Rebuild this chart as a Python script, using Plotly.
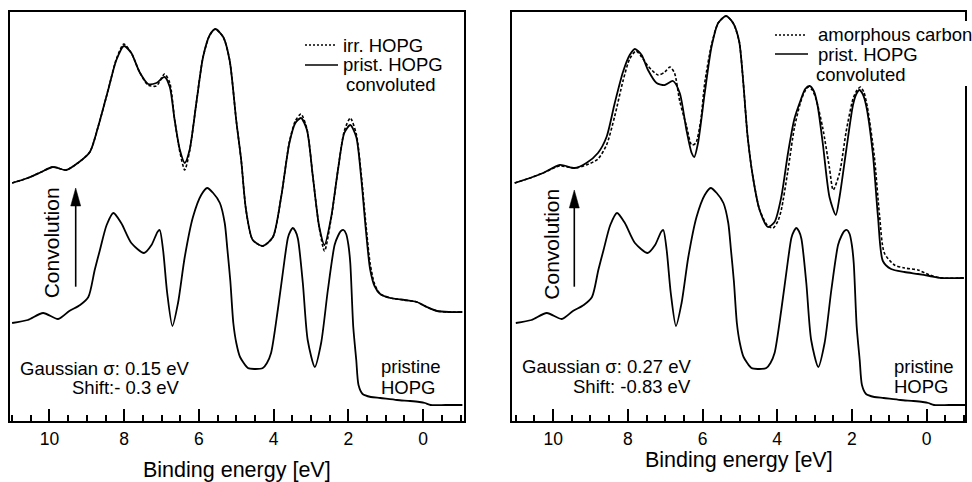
import plotly.graph_objects as go

W, H = 972, 482
FONT = "Liberation Sans, Arial, sans-serif"

# ---- pristine HOPG valence band (binding energy in eV, intensity in arb. units)
pristine_energy = [11.0, 10.58, 10.17, 9.77, 9.47, 9.18, 8.96, 8.79, 8.65, 8.47, 8.29, 8.08,
                   7.81, 7.47, 7.27, 7.11, 7.05, 6.96, 6.85, 6.71, 6.56, 6.38, 6.16, 5.94,
                   5.78, 5.62, 5.44, 5.31, 5.24, 5.16, 5.08, 5.0, 4.9, 4.69, 4.52, 4.29,
                   4.18, 4.07, 3.89, 3.71, 3.62, 3.55, 3.49, 3.42, 3.35, 3.22, 3.09, 2.90,
                   2.73, 2.55, 2.37, 2.28, 2.20, 2.13, 2.06, 2.00, 1.95, 1.87, 1.79, 1.73,
                   1.62, 1.40, 1.15, 0.70, 0.35, 0.10, -0.05, -0.20, -0.60, -1.05]
pristine_intensity = [98, 101, 108, 102, 110, 116, 124, 151, 171, 196, 208, 198,
                      178, 168, 176, 189, 191, 171, 128, 95, 118, 164, 204, 226,
                      233, 228, 218, 198, 172, 140, 98, 78, 64, 53, 52, 53,
                      58, 68, 111, 161, 183, 190, 193, 190, 182, 138, 81, 54,
                      78, 131, 176, 185, 190, 191, 187, 176, 158, 94, 61, 36,
                      27, 24, 23, 21, 20, 19, 18, 16, 16, 16]

# ---- left panel: pristine convoluted (sigma 0.15 eV, shift -0.3 eV) and irradiated HOPG
conv015_energy = [11.0, 10.58, 10.22, 9.91, 9.55, 9.24, 8.92, 8.70, 8.43, 8.21, 8.01, 7.81,
                  7.59, 7.36, 7.14, 6.92, 6.78, 6.65, 6.51, 6.38, 6.25, 6.07, 5.89, 5.71,
                  5.56, 5.35, 5.18, 5.0, 4.87, 4.74, 4.56, 4.29, 4.02, 3.80, 3.58, 3.42,
                  3.27, 3.11, 2.95, 2.78, 2.64, 2.46, 2.28, 2.11, 1.95, 1.79, 1.66, 1.53,
                  1.42, 1.30, 1.15, 0.88, 0.50, 0.17, -0.10, -0.37, -0.70, -1.05]
conv015_intensity = [238, 243, 249, 254, 251, 258, 269, 294, 331, 361, 375, 368,
                     349, 337, 338, 344, 334, 301, 271, 258, 271, 318, 364, 386,
                     392, 384, 361, 300, 261, 211, 181, 175, 184, 224, 278, 298,
                     303, 291, 244, 194, 176, 204, 251, 288, 296, 284, 244, 190,
                     152, 135, 127, 123, 121, 119, 114, 110, 109, 109]

irr_energy = [11.0, 10.58, 10.22, 9.91, 9.55, 9.24, 8.92, 8.70, 8.43, 8.21, 8.01, 7.81,
              7.59, 7.36, 7.14, 6.92, 6.78, 6.65, 6.51, 6.38, 6.25, 6.07, 5.89, 5.71,
              5.56, 5.35, 5.18, 5.0, 4.87, 4.74, 4.56, 4.29, 4.02, 3.80, 3.58, 3.42,
              3.27, 3.11, 2.95, 2.78, 2.64, 2.46, 2.28, 2.11, 1.95, 1.79, 1.66, 1.53,
              1.42, 1.30, 1.15, 0.88, 0.50, 0.17, -0.10, -0.37, -0.70, -1.05]
irr_intensity = [238, 243, 249, 254, 251, 258, 269, 294, 331, 362, 377, 368,
                 349, 336, 335, 347, 338, 301, 269, 251, 270, 318, 364, 386,
                 392, 384, 361, 300, 261, 211, 181, 175, 184, 224, 279, 300,
                 307, 292, 244, 193, 170, 203, 251, 290, 303, 287, 248, 196,
                 158, 137, 127, 123, 121, 119, 114, 110, 109, 109]

# ---- right panel: pristine convoluted (sigma 0.27 eV, shift -0.83 eV) and amorphous carbon
conv027_energy = [11.03, 10.62, 10.27, 9.82, 9.42, 9.11, 8.80, 8.57, 8.35, 8.13, 7.95, 7.81,
                  7.63, 7.46, 7.23, 7.01, 6.79, 6.61, 6.43, 6.29, 6.22, 6.12, 5.94, 5.76,
                  5.58, 5.37, 5.18, 5.02, 4.92, 4.79, 4.65, 4.47, 4.25, 4.07, 3.89, 3.71,
                  3.54, 3.36, 3.25, 3.13, 3.02, 2.92, 2.78, 2.60, 2.43, 2.33, 2.15, 1.97,
                  1.88, 1.80, 1.71, 1.62, 1.44, 1.30, 1.17, 0.95, 0.59, 0.23, -0.08, -0.39,
                  -1.0]
conv027_intensity = [238, 243, 248, 256, 253, 258, 268, 284, 318, 349, 366, 372,
                     366, 351, 338, 336, 340, 328, 291, 268, 264, 278, 328, 374,
                     398, 405, 398, 380, 344, 284, 244, 211, 194, 199, 224, 268,
                     302, 322, 332, 335, 330, 316, 278, 224, 206, 224, 271, 316,
                     327, 331, 327, 316, 268, 204, 160, 152, 149, 147, 145, 143,
                     143]

amorph_energy = [11.03, 10.62, 10.27, 9.82, 9.42, 9.11, 8.80, 8.57, 8.35, 8.13, 7.95, 7.78,
                 7.63, 7.46, 7.19, 7.01, 6.87, 6.75, 6.61, 6.43, 6.29, 6.18, 6.05, 5.94,
                 5.76, 5.58, 5.37, 5.18, 5.02, 4.92, 4.79, 4.65, 4.47, 4.25, 4.11, 3.98,
                 3.89, 3.71, 3.54, 3.38, 3.27, 3.17, 3.06, 2.96, 2.78, 2.60, 2.50, 2.33,
                 2.15, 1.97, 1.86, 1.77, 1.68, 1.58, 1.40, 1.26, 1.13, 0.86, 0.59, 0.23,
                 -0.08, -0.39, -1.0]
amorph_intensity = [238, 243, 248, 255, 253, 256, 262, 276, 305, 340, 362, 370,
                    364, 355, 346, 349, 354, 348, 320, 295, 276, 278, 300, 338,
                    376, 398, 405, 398, 380, 344, 284, 244, 211, 195, 193, 200,
                    211, 251, 293, 318, 329, 334, 331, 322, 293, 253, 231, 248,
                    290, 322, 331, 334, 329, 313, 265, 206, 168, 156, 153, 151,
                    146, 143, 143]

tick_values = [10, 8, 6, 4, 2, 0]
tick_labels = ["10", "8", "6", "4", "2", "0"]


def px(x):
    return x / W


def py(y):
    return 1 - y / H


fig = go.Figure()

line_kw = dict(color="black", width=1.8, shape="spline", smoothing=0.7)

panels = [
    ("x", "y", conv015_energy, conv015_intensity, irr_energy, irr_intensity),
    ("x2", "y2", conv027_energy, conv027_intensity, amorph_energy, amorph_intensity),
]
for xa, ya, ce, ci, de, di in panels:
    fig.add_trace(go.Scatter(x=pristine_energy, y=pristine_intensity, mode="lines",
                             line=line_kw, xaxis=xa, yaxis=ya, showlegend=False))
    fig.add_trace(go.Scatter(x=de, y=di, mode="lines",
                             line=dict(line_kw, dash="3px,2px", width=1.6),
                             xaxis=xa, yaxis=ya, showlegend=False))
    fig.add_trace(go.Scatter(x=ce, y=ci, mode="lines", line=line_kw,
                             xaxis=xa, yaxis=ya, showlegend=False))

xaxis_common = dict(
    showline=True, linewidth=2, linecolor="black", mirror=True,
    ticks="inside", ticklen=12, tickwidth=1.5, tickcolor="black",
    tickmode="array", tickvals=tick_values, ticktext=tick_labels,
    minor=dict(tickmode="linear", tick0=0, dtick=0.5, ticks="inside",
               ticklen=6, tickwidth=1.5, tickcolor="black"),
    showgrid=False, zeroline=False,
    tickfont=dict(family=FONT, size=17.5, color="black"),
    ticklabelstandoff=1,
)
yaxis_common = dict(
    showline=True, linewidth=2, linecolor="black", mirror=True,
    ticks="", showticklabels=False, showgrid=False, zeroline=False,
    range=[0, 409], domain=[1 - 421 / H, 1 - 12 / H],
)

fig.update_layout(
    width=W, height=H, margin=dict(l=0, r=0, t=0, b=0),
    paper_bgcolor="white", plot_bgcolor="white",
    font=dict(family=FONT, color="black"),
    xaxis=dict(xaxis_common, domain=[px(9.5), px(463.5)], range=[11.07, -1.08], anchor="y"),
    yaxis=dict(yaxis_common, anchor="x"),
    xaxis2=dict(xaxis_common, domain=[px(511.7), px(965)], range=[11.11, -1.03], anchor="y2"),
    yaxis2=dict(yaxis_common, anchor="x2"),
)

shapes = []
annotations = []


def text(x, y, s, size=18.5, xanchor="left", angle=0):
    annotations.append(dict(
        xref="paper", yref="paper", x=px(x), y=py(y), text=s, showarrow=False,
        xanchor=xanchor, yanchor="middle", textangle=angle,
        font=dict(family=FONT, size=size, color="black"), borderpad=0,
    ))


def arrow(x, y_tip, y_tail):
    shapes.append(dict(type="line", xref="paper", yref="paper",
                       x0=px(x), x1=px(x), y0=py(y_tail), y1=py(y_tip + 14),
                       line=dict(color="black", width=1.6)))
    path = "M {:.5f},{:.5f} L {:.5f},{:.5f} L {:.5f},{:.5f} Z".format(
        px(x), py(y_tip), px(x - 5), py(y_tip + 18), px(x + 5), py(y_tip + 18))
    shapes.append(dict(type="path", xref="paper", yref="paper", path=path,
                       fillcolor="black", line=dict(color="black", width=0.5)))


def legend_line(x0, x1, y, dash):
    shapes.append(dict(type="line", xref="paper", yref="paper",
                       x0=px(x0), x1=px(x1), y0=py(y), y1=py(y),
                       line=dict(color="black", width=1.5, dash=dash)))


# left panel decorations
arrow(75.7, 188, 286.7)
text(51.3, 243, "Convolution", size=21, xanchor="center", angle=-90)
text(19, 368, "Gaussian σ: 0.15 eV")
text(71, 387, "Shift:- 0.3 eV")
text(380, 366, "pristine")
text(380, 387, "HOPG")
legend_line(305, 337, 45, "2px,2px")
text(342, 45, "irr. HOPG")
legend_line(305, 338, 65, "solid")
text(342, 65, "prist. HOPG")
text(345, 84, "convoluted")
text(237, 470, "Binding energy [eV]", size=21.5, xanchor="center")

# right panel decorations
shapes.append(dict(type="rect", xref="paper", yref="paper", layer="above",
                   x0=px(955), x1=1.0, y0=py(86), y1=py(21),
                   fillcolor="white", line=dict(width=0)))
arrow(574.3, 190, 286.7)
text(550.7, 244, "Convolution", size=21, xanchor="center", angle=-90)
text(692, 366, "Gaussian σ: 0.27 eV", xanchor="right")
text(692, 386, "Shift: -0.83 eV", xanchor="right")
text(893, 366, "pristine")
text(893, 386, "HOPG")
legend_line(775, 807, 35, "2px,2px")
text(817, 35, "amorphous carbon")
legend_line(775, 808, 54, "solid")
text(817, 54, "prist. HOPG")
text(815, 74, "convoluted")
text(739, 460, "Binding energy [eV]", size=21.5, xanchor="center")

fig.update_layout(shapes=shapes, annotations=annotations)

fig.write_html("out.html")
